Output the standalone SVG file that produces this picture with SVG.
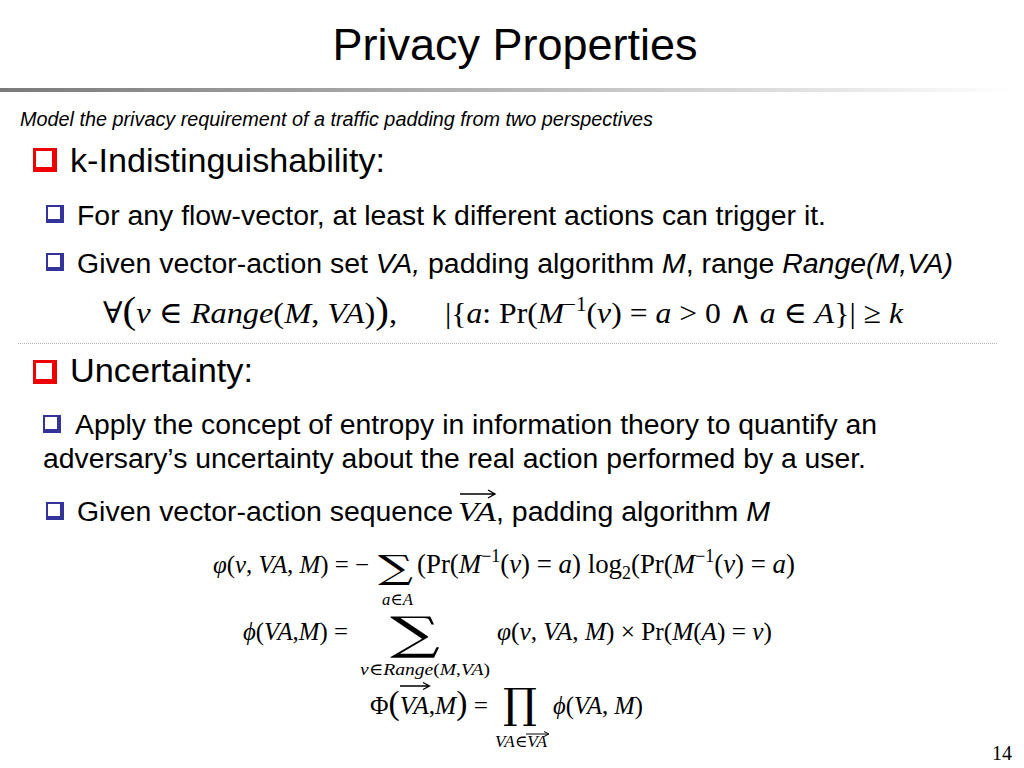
<svg xmlns="http://www.w3.org/2000/svg" width="1024" height="768" viewBox="0 0 1024 768">
<defs>
<linearGradient id="bar" x1="0" x2="1" y1="0" y2="0">
<stop offset="0" stop-color="#7a7a7a"/>
<stop offset="0.5" stop-color="#b8b8b8"/>
<stop offset="1" stop-color="#ffffff"/>
</linearGradient>
<symbol id="rb" viewBox="0 0 24 24" overflow="visible">
<rect x="0" y="0" width="24" height="24" fill="#ee0000"/>
<rect x="3" y="3" width="16" height="16" fill="#ffffff"/>
</symbol>
<symbol id="bb" viewBox="0 0 18 18" overflow="visible">
<rect x="0" y="0" width="18" height="18" fill="#333399"/>
<rect x="2" y="2" width="12" height="12" fill="#ffffff"/>
</symbol>
</defs>
<style>
.s{font-family:"Liberation Sans",Arial,sans-serif;fill:#000}
.m{font-family:"Liberation Serif","DejaVu Serif",serif;fill:#000}
.big{font-family:"DejaVu Serif","Liberation Serif",serif;fill:#000}
.i{font-style:italic}
.arr{fill:none;stroke:#000}
</style>
<rect width="1024" height="768" fill="#ffffff"/>

<g id="title">
<text class="s" x="515" y="60" font-size="45" text-anchor="middle">Privacy Properties</text>
<rect x="0" y="88" width="1015" height="4" fill="url(#bar)"/>
</g>

<g id="subtitle">
<text class="s i" x="20" y="126" font-size="20" textLength="633" lengthAdjust="spacingAndGlyphs">Model the privacy requirement of a traffic padding from two perspectives</text>
</g>

<g id="k-indist">
<use href="#rb" x="33" y="148" width="24" height="24"/>
<text class="s" x="70" y="172" font-size="34" textLength="315" lengthAdjust="spacingAndGlyphs">k-Indistinguishability:</text>
<use href="#bb" x="46" y="205" width="18" height="18"/>
<text class="s" x="77" y="225" font-size="28.4" textLength="749" lengthAdjust="spacingAndGlyphs">For any flow-vector, at least k different actions can trigger it.</text>
<use href="#bb" x="46" y="253" width="18" height="18"/>
<text class="s" x="77" y="273" font-size="28.4" textLength="876" lengthAdjust="spacingAndGlyphs">Given vector-action set <tspan class="i">VA,</tspan> padding algorithm <tspan class="i">M</tspan>, range <tspan class="i">Range(M,VA)</tspan></text>
<text class="m" x="103" y="323" font-size="30" textLength="294" lengthAdjust="spacingAndGlyphs">∀<tspan font-size="38">(</tspan><tspan class="i">v</tspan> ∈ <tspan class="i">Range</tspan>(<tspan class="i">M</tspan>, <tspan class="i">VA</tspan>)<tspan font-size="38">)</tspan>,</text>
<text class="m" x="445" y="323" font-size="30" textLength="458" lengthAdjust="spacingAndGlyphs">|{<tspan class="i">a</tspan>: Pr(<tspan class="i">M</tspan><tspan font-size="20" dy="-12">−1</tspan><tspan dy="12">(</tspan><tspan class="i">v</tspan>) = <tspan class="i">a</tspan> &gt; 0 ∧ <tspan class="i">a</tspan> ∈ <tspan class="i">A</tspan>}| ≥ <tspan class="i">k</tspan></text>
</g>

<g id="separator">
<line x1="18" y1="343.5" x2="998" y2="343.5" stroke="#b5b5b5" stroke-width="1" stroke-dasharray="1 1"/>
</g>

<g id="uncertainty">
<use href="#rb" x="33" y="360" width="24" height="24"/>
<text class="s" x="70" y="382" font-size="34" textLength="183" lengthAdjust="spacingAndGlyphs">Uncertainty:</text>
<use href="#bb" x="43" y="415" width="18" height="18"/>
<text class="s" x="75" y="434" font-size="28.4" textLength="802" lengthAdjust="spacingAndGlyphs">Apply the concept of entropy in information theory to quantify an</text>
<text class="s" x="43" y="468" font-size="28.4" textLength="823" lengthAdjust="spacingAndGlyphs">adversary’s uncertainty about the real action performed by a user.</text>
<use href="#bb" x="46" y="502" width="18" height="18"/>
<text class="s" x="77" y="521" font-size="28.4" textLength="376" lengthAdjust="spacingAndGlyphs">Given vector-action sequence</text>
<text class="m i" x="458" y="521" font-size="28" textLength="38" lengthAdjust="spacingAndGlyphs">VA</text>
<path class="arr" d="M460,494 H494 M488,490 L495,494 L488,498" stroke-width="1.4"/>
<text class="s" x="496" y="521" font-size="28.4" textLength="274" lengthAdjust="spacingAndGlyphs">, padding algorithm <tspan class="i">M</tspan></text>
</g>

<g id="formula-phi">
<text class="m" x="213" y="573" font-size="25" textLength="156" lengthAdjust="spacingAndGlyphs"><tspan class="i">φ</tspan>(<tspan class="i">v</tspan>, <tspan class="i">VA</tspan>, <tspan class="i">M</tspan>) = −</text>
<text class="big" x="378" y="579" font-size="33" textLength="35" lengthAdjust="spacingAndGlyphs">∑</text>
<text class="m" x="382" y="605" font-size="17" textLength="31" lengthAdjust="spacingAndGlyphs"><tspan class="i">a</tspan>∈<tspan class="i">A</tspan></text>
<text class="m" x="417" y="573" font-size="27" textLength="378" lengthAdjust="spacingAndGlyphs">(Pr(<tspan class="i">M</tspan><tspan font-size="18" dy="-11">−1</tspan><tspan dy="11">(</tspan><tspan class="i">v</tspan>) = <tspan class="i">a</tspan>) log<tspan font-size="18" dy="6">2</tspan><tspan dy="-6">(Pr(</tspan><tspan class="i">M</tspan><tspan font-size="18" dy="-11">−1</tspan><tspan dy="11">(</tspan><tspan class="i">v</tspan>) = <tspan class="i">a</tspan>)</text>
</g>

<g id="formula-phi-sum">
<text class="m" x="243" y="640" font-size="24.5" textLength="105" lengthAdjust="spacingAndGlyphs"><tspan class="i">ϕ</tspan>(<tspan class="i">VA</tspan>,<tspan class="i">M</tspan>) =</text>
<text class="big" x="390" y="649" font-size="45" textLength="50" lengthAdjust="spacingAndGlyphs">∑</text>
<text class="m" x="360" y="675" font-size="17" textLength="130" lengthAdjust="spacingAndGlyphs"><tspan class="i">v</tspan>∈<tspan class="i">Range</tspan>(<tspan class="i">M</tspan>,<tspan class="i">VA</tspan>)</text>
<text class="m" x="497" y="640" font-size="26" textLength="275" lengthAdjust="spacingAndGlyphs"><tspan class="i">φ</tspan>(<tspan class="i">v</tspan>, <tspan class="i">VA</tspan>, <tspan class="i">M</tspan>) × Pr(<tspan class="i">M</tspan>(<tspan class="i">A</tspan>) = <tspan class="i">v</tspan>)</text>
</g>

<g id="formula-Phi">
<text class="m" x="370" y="714" font-size="25" textLength="118" lengthAdjust="spacingAndGlyphs">Φ<tspan font-size="33">(</tspan><tspan class="i">VA</tspan>,<tspan class="i">M</tspan><tspan font-size="33">)</tspan> =</text>
<path class="arr" d="M400,686 H429 M423,682.5 L429.5,686 L423,689.5" stroke-width="1.3"/>
<text class="big" x="503" y="718" font-size="42" textLength="34" lengthAdjust="spacingAndGlyphs">∏</text>
<text class="m" x="495" y="747" font-size="17" textLength="52" lengthAdjust="spacingAndGlyphs"><tspan class="i">VA</tspan>∈<tspan class="i">VA</tspan></text>
<path class="arr" d="M526,734 H548 M544,731.5 L549,734 L544,736.5" stroke-width="1"/>
<text class="m" x="553" y="714" font-size="26" textLength="90" lengthAdjust="spacingAndGlyphs"><tspan class="i">ϕ</tspan>(<tspan class="i">VA</tspan>, <tspan class="i">M</tspan>)</text>
</g>

<g id="page-number">
<text class="m" x="1012" y="760" font-size="20" text-anchor="end">14</text>
</g>
</svg>
